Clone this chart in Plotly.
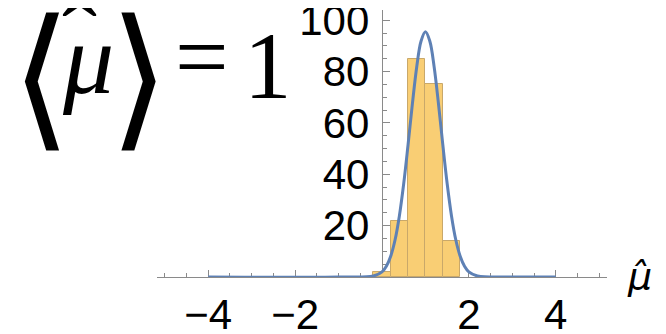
import plotly.graph_objects as go

# ---- data ----
bin_centers = [0.0, 0.4, 0.8, 1.2, 1.6]
bin_counts = [2, 22, 85, 75, 14]
bin_width = 0.4

curve_x = [-4.0, -1.0, -0.2, 0.0, 0.1, 0.2, 0.3, 0.4, 0.5, 0.6, 0.7, 0.8, 0.9, 1.0,
           1.1, 1.2, 1.3, 1.4, 1.5, 1.6, 1.7, 1.8, 1.9, 2.0, 2.2, 3.0, 4.0]
curve_y = [0.0, 0.0, 0.4, 2.0, 4.2, 8.1, 14.4, 23.8, 36.4, 51.5, 67.5, 81.9, 91.9, 95.5,
           91.9, 81.9, 67.5, 51.5, 36.4, 23.8, 14.4, 8.1, 4.2, 2.0, 0.4, 0.0, 0.0]

x_tickvals = [-4, -2, 2, 4]
x_ticktext = ["\u22124", "\u22122", "2", "4"]
y_tickvals = [20, 40, 60, 80, 100]
y_ticktext = ["20", "40", "60", "80", "100"]

xlabel_text = "<i>\u03bc\u0302</i>"

# ---- layout geometry (pixels); page body adds an 8px offset ----
OFF = 8
W, H = 666 - OFF, 334 - OFF
# desired plot area in screen pixels
SX0, SX1, SY0, SY1 = 157.0, 606.7, 10.0, 276.7
L = SX0 - OFF
R = W - (SX1 - OFF)
T = SY0 - OFF
B = H - (SY1 - OFF)
pw = SX1 - SX0
ph = SY1 - SY0


def px(x):
    return (x - SX0) / pw


def py(y):
    return (SY1 - y) / ph


AXC = "#8a8a8a"

fig = go.Figure()
fig.add_trace(go.Bar(
    x=bin_centers, y=bin_counts, width=bin_width,
    marker=dict(color="#F9CE74", line=dict(color="#C9A86A", width=1)),
    showlegend=False,
))
fig.add_trace(go.Scatter(
    x=curve_x, y=curve_y, mode="lines",
    line=dict(color="#5E81B5", width=3, shape="spline"),
    showlegend=False,
))

fig.update_layout(
    width=W, height=H,
    margin=dict(l=L, r=R, t=T, b=B, pad=0, autoexpand=False),
    paper_bgcolor="white", plot_bgcolor="white",
    bargap=0,
    font=dict(family="Liberation Sans", color="black"),
    xaxis=dict(
        range=[-5.18, 5.18], showgrid=False, zeroline=False, automargin=False,
        showline=True, linecolor=AXC, linewidth=1.2,
        tickmode="array", tickvals=x_tickvals, ticktext=x_ticktext,
        ticks="inside", ticklen=7, tickcolor=AXC, tickwidth=1,
        tickfont=dict(size=42, family="Liberation Sans", color="black"),
        minor=dict(dtick=0.5, tick0=0, ticks="inside", ticklen=4, tickcolor=AXC),
        layer="below traces",
        ticklabelstandoff=0,
        ticklabeloverflow="allow",
    ),
    yaxis=dict(
        range=[0, 104], showgrid=False, zeroline=False, automargin=False,
        anchor="free", position=px(381.7),
        showline=True, linecolor=AXC, linewidth=1.2,
        tickmode="array", tickvals=y_tickvals, ticktext=y_ticktext,
        ticks="inside", ticklen=7, tickcolor=AXC, tickwidth=1,
        tickfont=dict(size=42, family="Liberation Sans", color="black"),
        minor=dict(dtick=5, tick0=0, ticks="inside", ticklen=4, tickcolor=AXC),
        layer="below traces",
        ticklabelstandoff=4,
        ticklabeloverflow="allow",
    ),
)


def txt(s, x, y, size, family, weight=None, xanchor="center"):
    f = dict(family=family, size=size, color="black")
    if weight is not None:
        f["weight"] = weight
    return dict(text=s, x=px(x), y=py(y), xref="paper", yref="paper",
                xanchor=xanchor, yanchor="middle", showarrow=False, font=f)


ann = [
    txt("\u27e8", 41, 73, 155, "Inter, DejaVu Sans", weight=200),
    txt("<i>\u03bc</i>", 88, 58, 102, "Liberation Serif"),
    txt("\u02c6", 80, 38, 105, "Liberation Serif"),
    txt("\u27e9", 139, 73, 155, "Inter, DejaVu Sans", weight=200),
    txt("=", 202, 57, 95, "Liberation Serif"),
    txt("1", 267.5, 66, 95, "Liberation Serif"),
    txt(xlabel_text, 639, 276, 38, "DejaVu Sans"),
]
fig.update_layout(annotations=ann)

fig.write_html("out.html")
